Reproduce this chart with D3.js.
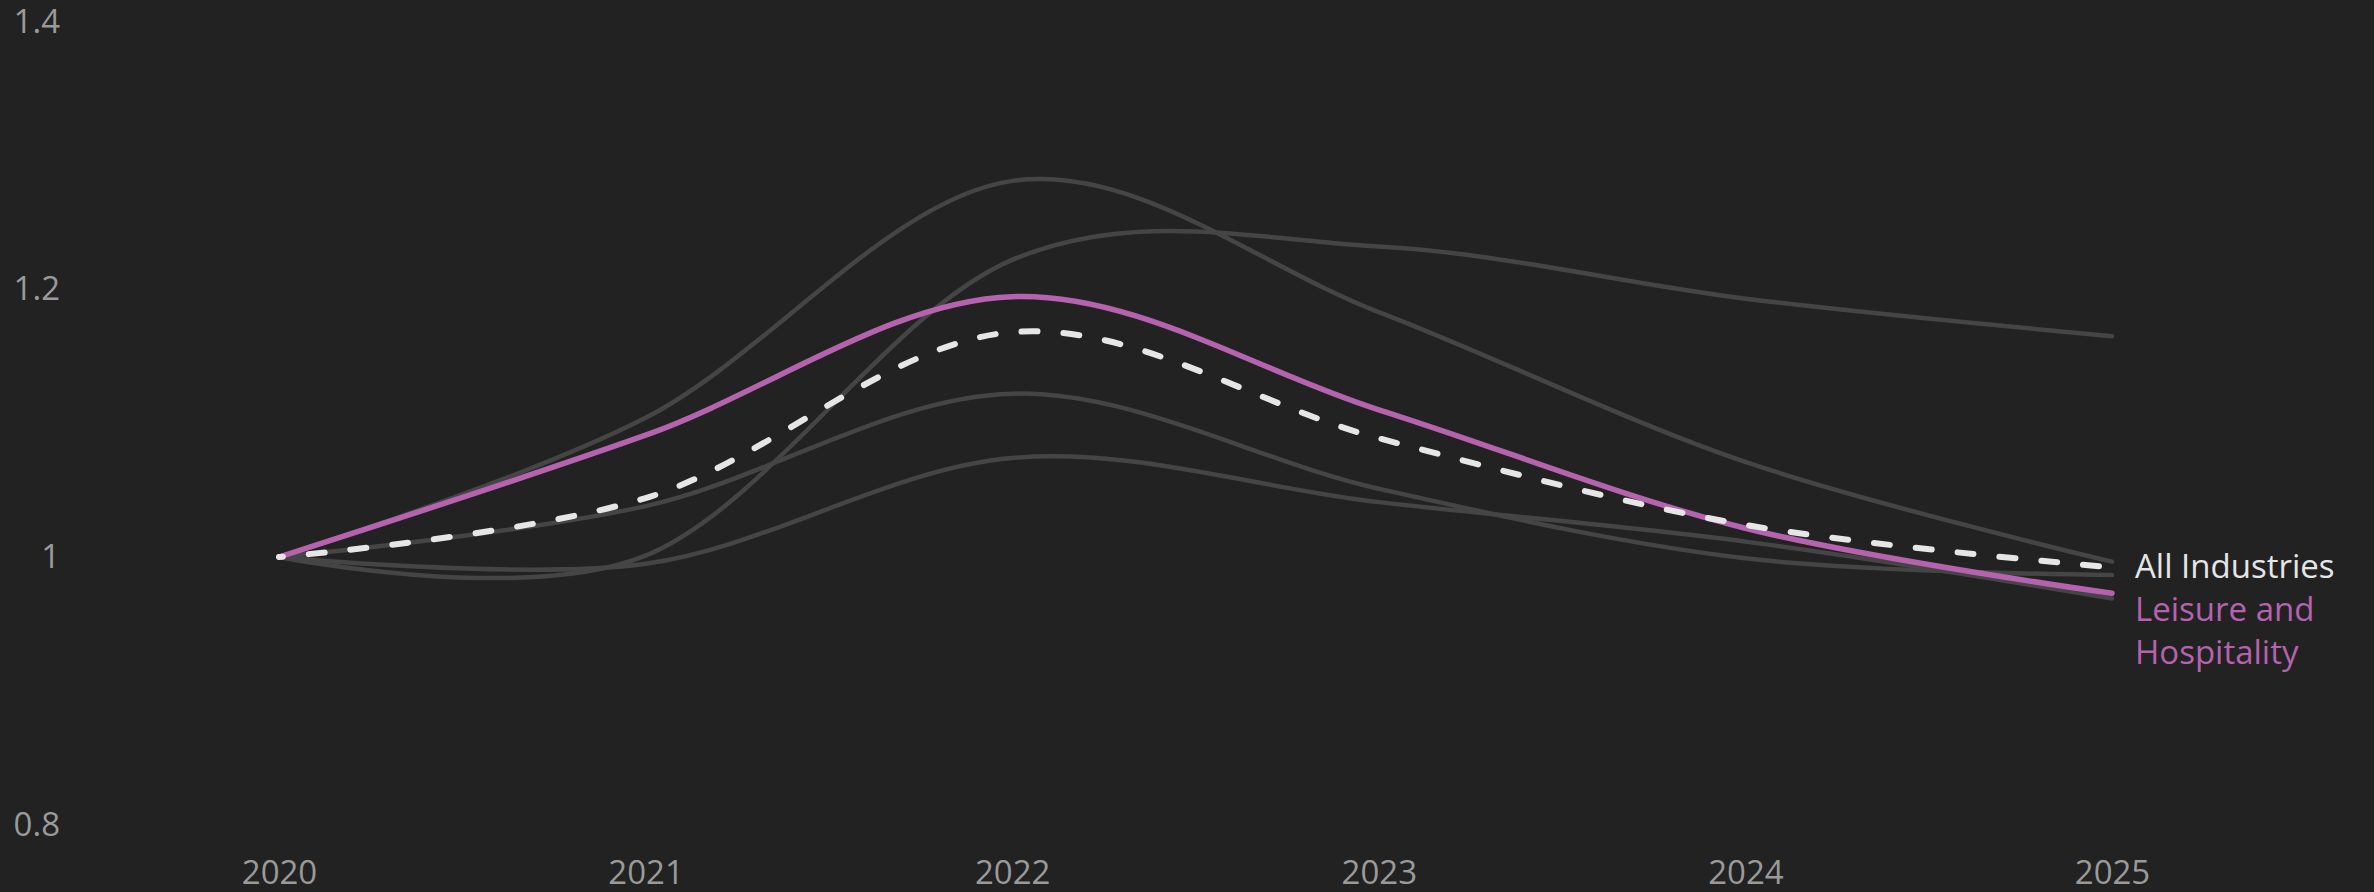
<!DOCTYPE html>
<html>
<head>
<meta charset="utf-8">
<script src="https://cdn.jsdelivr.net/npm/d3@7"></script>
<style>
  html, body { margin: 0; padding: 0; background: #222222; }
  svg { display: block; }
  text { font-family: "Open Sans", "Noto Sans", sans-serif; }
</style>
</head>
<body>
<svg id="chart" width="2374" height="892"></svg>
<script>
// ---- data ----
const years = [2020, 2021, 2022, 2023, 2024, 2025];
const yTicks = [0.8, 1, 1.2, 1.4];
const yTickLabels = ["0.8", "1", "1.2", "1.4"];
const xTickLabels = ["2020", "2021", "2022", "2023", "2024", "2025"];

const otherA = [1.000, 1.104, 1.281, 1.183, 1.071, 0.9965];
const otherB = [1.000, 1.001, 1.222, 1.232, 1.193, 1.165];
const otherC = [1.000, 1.038, 1.122, 1.051, 0.999, 0.9866];
const otherD = [1.000, 0.995, 1.074, 1.041, 1.0115, 0.969];
const leisure = [1.000, 1.091, 1.1945, 1.110, 1.0215, 0.9729];
const allIndustries = [1.000, 1.044, 1.168, 1.0887, 1.024, 0.9923];

const graySeries = [otherA, otherB, otherC, otherD];

// ---- layout ----
const W = 2374, H = 892;
const svg = d3.select("#chart");
svg.append("rect").attr("width", W).attr("height", H).attr("fill", "#222222");

const x = d3.scaleLinear().domain([2020, 2025]).range([279, 2112]);
const y = d3.scaleLinear().domain([0.8, 1.4]).range([824.7, 21.6]);

const line = d3.line()
  .x((d, i) => x(years[i]))
  .y(d => y(d))
  .curve(d3.curveCardinal.tension(0));

// axes
const yAxis = svg.append("g")
  .attr("transform", "translate(60,0)")
  .call(d3.axisLeft(y).tickValues(yTicks).tickSize(0).tickPadding(0)
        .tickFormat(d => yTickLabels[yTicks.indexOf(d)]));
const xAxis = svg.append("g")
  .attr("transform", "translate(0,861)")
  .call(d3.axisBottom(x).tickValues(years).tickSize(0).tickPadding(0)
        .tickFormat(d => xTickLabels[years.indexOf(d)]));
[yAxis, xAxis].forEach(g => {
  g.select(".domain").remove();
  g.selectAll("text")
    .attr("fill", "#9a9a9a")
    .style("font-size", "33px")
    .style("font-family", "'Open Sans', 'Noto Sans', sans-serif");
});

// gray lines
svg.append("g").selectAll("path")
  .data(graySeries)
  .join("path")
  .attr("d", d => line(d))
  .attr("fill", "none")
  .attr("stroke", "#454545")
  .attr("stroke-width", 4.5)
  .attr("stroke-linecap", "round");

// leisure line
svg.append("path")
  .attr("d", line(leisure))
  .attr("fill", "none")
  .attr("stroke", "#b563ae")
  .attr("stroke-width", 5.5)
  .attr("stroke-linecap", "round");

// all industries dashed
svg.append("path")
  .attr("d", line(allIndustries))
  .attr("fill", "none")
  .attr("stroke", "#e6e6e6")
  .attr("stroke-width", 6)
  .attr("stroke-linecap", "round")
  .attr("stroke-dasharray", "16 26")
  .attr("stroke-dashoffset", -30);

// end labels
const labelX = x(2025) + 23;
const allY = y(allIndustries[allIndustries.length - 1]) + 11;
svg.append("text")
  .attr("x", labelX).attr("y", allY)
  .attr("fill", "#e6e6e6")
  .style("font-size", "33px")
  .text("All Industries");

const leisureText = svg.append("text")
  .attr("x", labelX).attr("y", allY + 43)
  .attr("fill", "#b563ae")
  .style("font-size", "33px");
leisureText.append("tspan").attr("x", labelX).attr("dy", 0).text("Leisure and");
leisureText.append("tspan").attr("x", labelX).attr("dy", 43).text("Hospitality");
</script>
</body>
</html>
